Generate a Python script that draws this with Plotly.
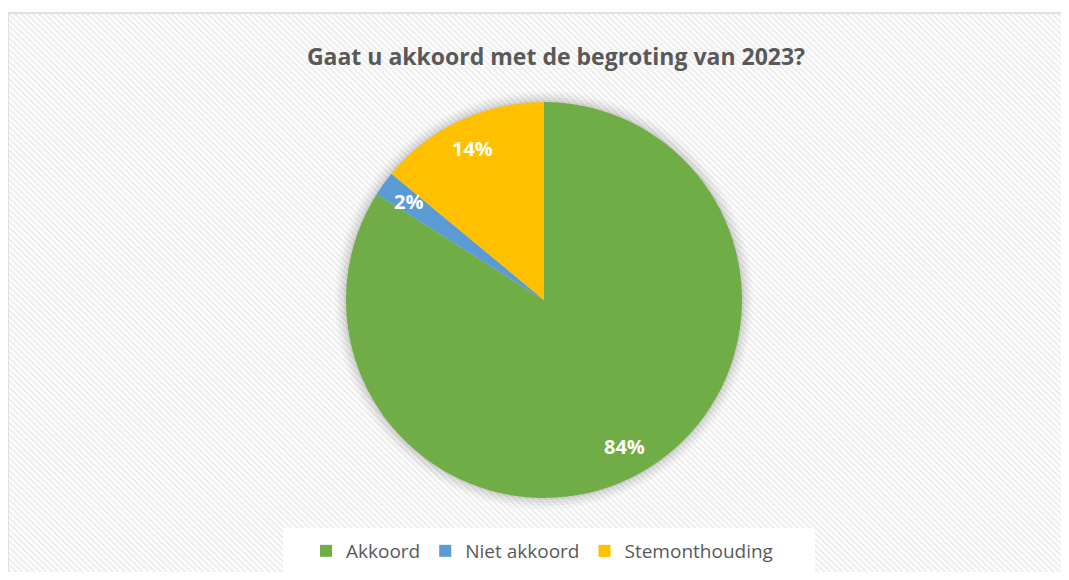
import base64
import math
import plotly.graph_objects as go

# Data
categories = ["Akkoord", "Niet akkoord", "Stemonthouding"]
values = [84, 2, 14]
colors = ["#70AD47", "#5B9BD5", "#FFC000"]
title_text = "Gaat u akkoord met de begroting van 2023?"

W, H = 1053, 564
OFF = 8  # page body margin offset

def px(x):
    return (x - OFF) / W

def py(y):
    return 1 - (y - OFF) / H

# Hatched background as inline SVG
svg = (
    '<svg xmlns="http://www.w3.org/2000/svg" width="1100" height="600">'
    '<defs><pattern id="p" width="6" height="6" patternUnits="userSpaceOnUse">'
    '<rect width="6" height="6" fill="#FFFFFF"/>'
    '<path d="M-1,-1 L7,7 M-1,5 L1,7 M5,-1 L7,1" stroke="#EDEDED" stroke-width="2"/>'
    '</pattern></defs>'
    '<rect width="1100" height="600" fill="url(#p)"/></svg>'
)
src = "data:image/svg+xml;base64," + base64.b64encode(svg.encode()).decode()

cx, cy, r = 544, 300, 198

fig = go.Figure()
fig.add_trace(go.Pie(
    labels=categories,
    values=values,
    marker=dict(colors=colors, line=dict(width=0)),
    sort=False,
    direction="clockwise",
    rotation=0,
    textinfo="none",
    domain=dict(x=[px(cx - r), px(cx + r)], y=[py(cy + r), py(cy - r)]),
    hoverinfo="label+percent",
))

# Data labels placed at ~0.845 of the radius, at each slice's mid-angle (derived from values)
annotations = []
total = sum(values)
cum = 0
for v in values:
    mid = (cum + v / 2) / total * 2 * math.pi
    cum += v
    d = 0.845 * r
    lx = cx + math.sin(mid) * d
    ly = cy - math.cos(mid) * d
    annotations.append(dict(
        text=f"<b>{round(v / total * 100)}%</b>", x=px(lx), y=py(ly),
        xref="paper", yref="paper", showarrow=False,
        xanchor="center", yanchor="middle",
        font=dict(family="Open Sans", size=20, color="white"),
    ))

shapes = []
# soft shadow around the pie
for k, op in [(11, 0.025), (8, 0.035), (5, 0.045), (2, 0.06)]:
    shapes.append(dict(type="circle", xref="paper", yref="paper",
                       x0=px(cx - r - k), x1=px(cx + r + k),
                       y0=py(cy + r + k), y1=py(cy - r - k),
                       fillcolor=f"rgba(0,0,0,{op})", line=dict(width=0), layer="below"))
# legend white box
shapes.append(dict(type="rect", xref="paper", yref="paper",
                   x0=px(283), x1=px(815), y0=py(575), y1=py(528),
                   fillcolor="white", line=dict(width=0), layer="below"))
# chart border (only left and top edges are in view)
shapes.append(dict(type="line", xref="paper", yref="paper",
                   x0=px(8), x1=px(8), y0=0, y1=py(13),
                   line=dict(color="#D9D9D9", width=1.5), layer="above"))
shapes.append(dict(type="line", xref="paper", yref="paper",
                   x0=px(8), x1=1, y0=py(13), y1=py(13),
                   line=dict(color="#D9D9D9", width=1.5), layer="above"))

fig.update_layout(
    width=W, height=H, autosize=False,
    margin=dict(l=0, r=0, t=0, b=0),
    paper_bgcolor="white",
    title=dict(text=f"<b>{title_text}</b>", x=px(556), xanchor="center",
               y=py(57), yanchor="middle",
               font=dict(family="Open Sans", size=23, color="#595959")),
    legend=dict(orientation="h", x=px(542), xanchor="center", y=py(551), yanchor="middle",
                font=dict(family="Open Sans", size=19, color="#595959"),
                bgcolor="rgba(0,0,0,0)", itemclick=False, traceorder="normal"),
    images=[dict(source=src, xref="paper", yref="paper", x=px(8), y=py(13),
                 sizex=1.05, sizey=1.05, sizing="stretch", layer="below",
                 xanchor="left", yanchor="top")],
    shapes=shapes,
    annotations=annotations,
)

fig.write_html("out.html")
